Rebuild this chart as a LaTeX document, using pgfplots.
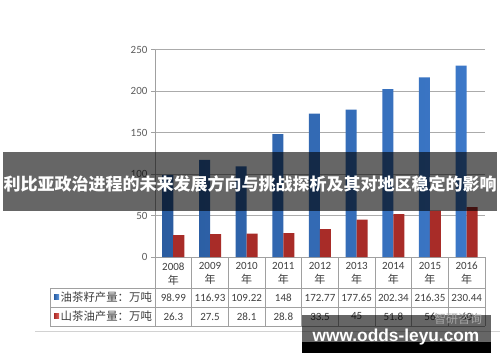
\documentclass[border=0pt]{standalone}
\usepackage{pgfplots}
\pgfplotsset{compat=1.18}
\usepackage{fontspec}
\setmainfont{Carlito}
\newfontfamily\cjk{Noto Sans CJK SC}
\newfontfamily\wm{Liberation Sans}
\definecolor{blueM}{HTML}{3C78C8}
\definecolor{blueD}{HTML}{2A5CA0}
\definecolor{blueL}{HTML}{5C98E0}
\definecolor{redM}{HTML}{D0403A}
\definecolor{redD}{HTML}{A82C28}
\definecolor{redL}{HTML}{E2615A}
\definecolor{gridgray}{HTML}{ABABAB}
\definecolor{axisgray}{HTML}{A0A0A0}
\definecolor{txt}{HTML}{404040}
\begin{document}
\begin{tikzpicture}
\path[use as bounding box, fill=white] (0pt,0pt) rectangle (500pt,362pt);
\begin{axis}[
  at={(155pt,105pt)}, anchor=south west,
  scale only axis, width=330pt, height=207.5pt,
  xmin=-0.5, xmax=8.5, ymin=0, ymax=250,
  axis x line*=bottom, axis y line*=left,
  axis line style={draw=axisgray, line width=0.6pt},
  ytick={0,50,...,250},
  ymajorgrids, grid style={draw=gridgray, line width=0.6pt},
  tick align=outside, major tick length=4pt,
  ytick style={draw=axisgray, line width=0.6pt},
  xtick={0,...,8}, xtick style={draw=none},
  xticklabels={2008\\{\cjk 年},2009\\{\cjk 年},2010\\{\cjk 年},2011\\{\cjk 年},2012\\{\cjk 年},2013\\{\cjk 年},2014\\{\cjk 年},2015\\{\cjk 年},2016\\{\cjk 年}},
  xticklabel style={align=center, font=\fontsize{11}{14}\selectfont, text=txt, anchor=north, yshift=2pt},
  yticklabel style={font=\fontsize{11}{13}\selectfont, text=txt!85, anchor=east},
  /pgf/number format/assume math mode=true,
  clip=false,
]
\addplot[ybar, bar width=0.3, bar shift=-0.15, draw=none, left color=blueD, middle color=blueL, right color=blueM]
  coordinates {(0,98.99)(1,116.93)(2,109.22)(3,148)(4,172.77)(5,177.65)(6,202.34)(7,216.35)(8,230.44)};
\addplot[ybar, bar width=0.3, bar shift=0.15, draw=none, left color=redD, middle color=redL, right color=redD]
  coordinates {(0,26.3)(1,27.5)(2,28.1)(3,28.8)(4,33.5)(5,45)(6,51.8)(7,56)(8,60)};
\end{axis}
\begin{scope}[x=1pt,y=1pt]
  % table grid
  \draw[axisgray, line width=0.6pt] (50,74) -- (485,74) (50,55) -- (485,55) (50,36) -- (485,36) (50,74) -- (50,36);
  \foreach \k in {0,...,9} {\draw[axisgray, line width=0.6pt] ({155+36.667*\k},105) -- ({155+36.667*\k},36);}
  % row labels
  \fill[left color=blueD, right color=blueL] (54,62.2) rectangle (59,67.2);
  \fill[left color=redD, right color=redL] (54,43.2) rectangle (59,48.2);
  \node[anchor=west, inner sep=0pt, text=txt, font=\cjk\fontsize{11.4}{13}\selectfont] at (60.5,64.8) {油茶籽产量：万吨};
  \node[anchor=west, inner sep=0pt, text=txt, font=\cjk\fontsize{11.4}{13}\selectfont] at (60.5,45.6) {山茶油产量：万吨};
  % row values
  \foreach \v [count=\i from 0] in {98.99,116.93,109.22,148,172.77,177.65,202.34,216.35,230.44}
    {\node[text=txt, font=\fontsize{11}{13}\selectfont] at ({155+36.667*(\i+0.5)},64.5) {\v};}
  \foreach \v [count=\i from 0] in {26.3,27.5,28.1,28.8,33.5,45,51.8,56,60}
    {\node[text=txt, font=\fontsize{11}{13}\selectfont] at ({155+36.667*(\i+0.5)},45.5) {\v};}
  % outer chart border line
  \draw[gray!35, line width=0.6pt] (35,31) -- (500,31);
  % banner
  \fill[black, opacity=0.6] (3,210) rectangle (497,151);
  \node[text=white, font=\cjk\bfseries\fontsize{17}{19}\selectfont, inner sep=0pt] at (250,178) {利比亚政治进程的未来发展方向与挑战探析及其对地区稳定的影响};
  % watermark
  \fill[black, opacity=0.6] (302,47) rectangle (491,20.3);
  \fill[black] (302,20.3) rectangle (491,9.3);
  \node[text=gray!70, font=\cjk\fontsize{12}{13}\selectfont, inner sep=0pt] at (458,43) {智研咨询};
  \node[text=white, font=\wm\bfseries\fontsize{17.3}{19}\selectfont, inner sep=0pt] at (396,25) {www.odds-leyu.com};
\end{scope}
\end{tikzpicture}
\end{document}
